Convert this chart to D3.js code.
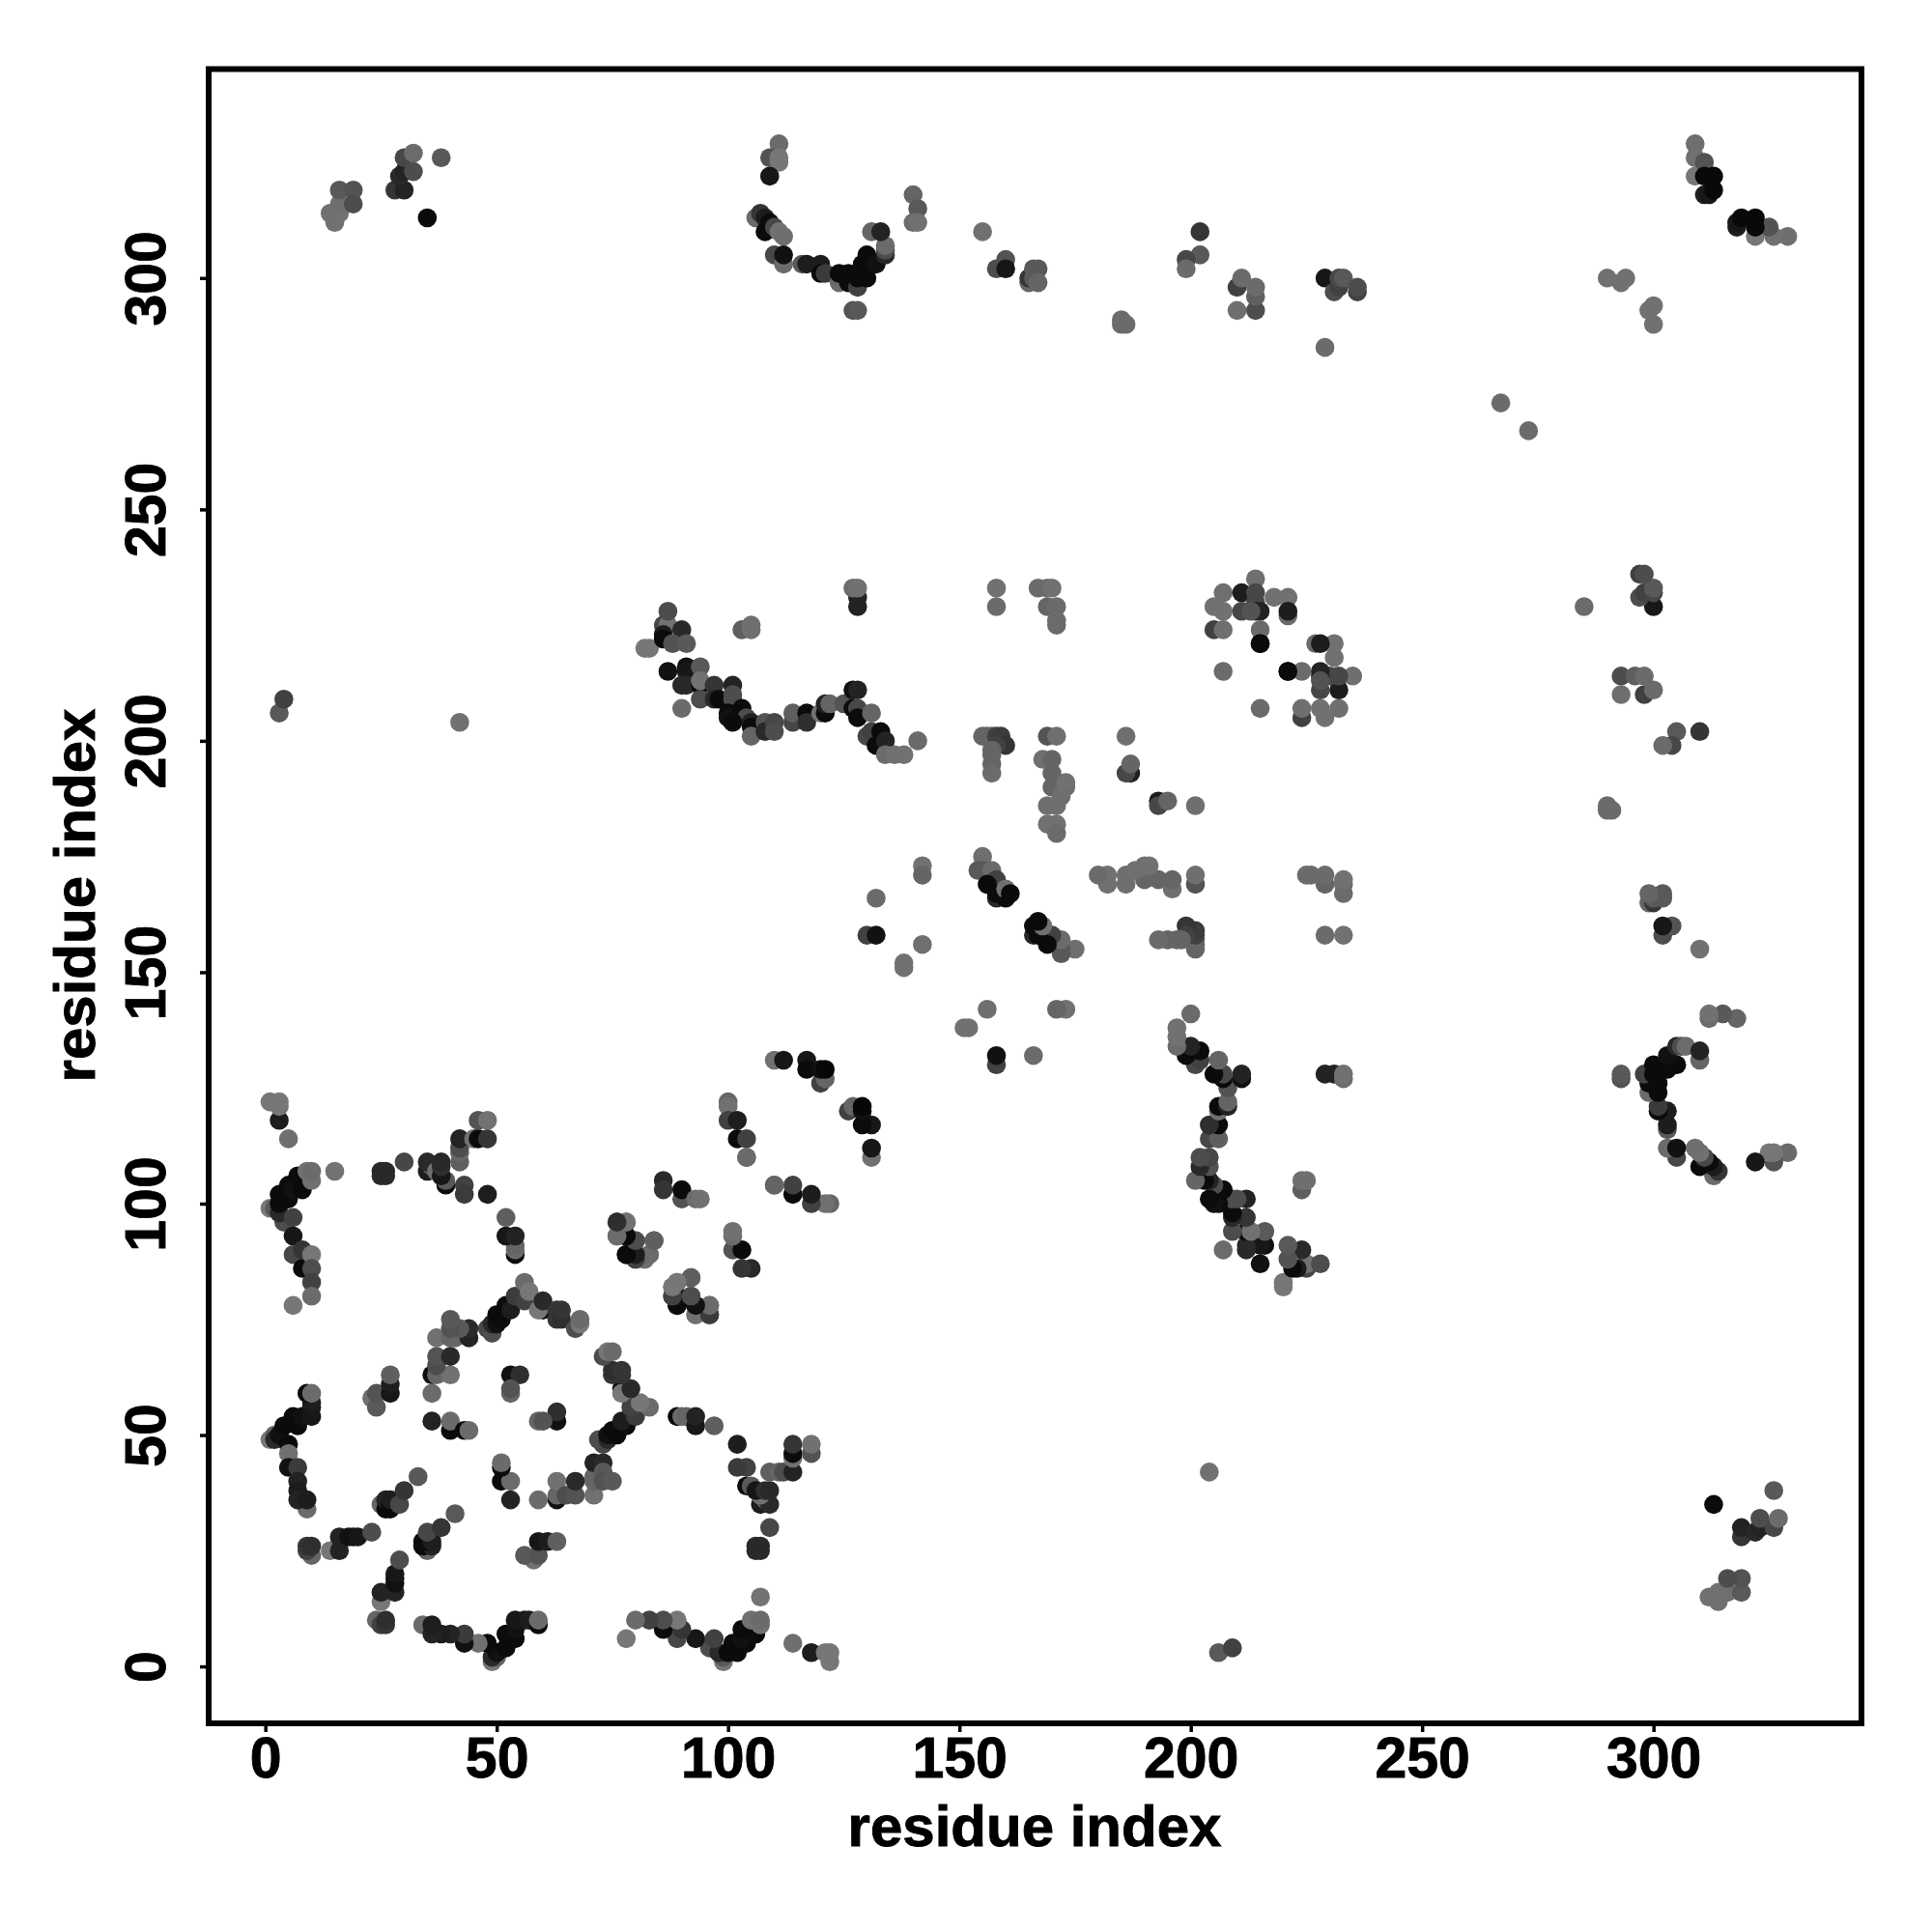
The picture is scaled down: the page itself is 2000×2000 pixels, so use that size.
<!DOCTYPE html>
<html><head><meta charset="utf-8">
<script src="https://cdn.jsdelivr.net/npm/d3@7"></script>
<style>html,body{margin:0;background:#fff}svg{display:block}</style></head><body>
<svg id="c" width="2000" height="2000"></svg>
<script>
// Each contact: [residue i, residue j, score]. The map is symmetric, so every pair appears on both sides of the diagonal.
const contactsNterm = [[3,118,.8],[3,121,.05],[1,122,.05],[3,122,.05],[5,114,.12]];
const contactsArc100 = [[1,99,.05],[2,99,.3],[4,96,.4],[3,98,.7],[6,97,.5],[3,100,.95],[3,102,.95],[5,101,.95],[5,104,.95],[6,103,.9],[7,106,.95],[8,103,.95],[9,107,.1],[10,105,.1],[10,107,.15],[15,107,.08]];
const contactsArc85 = [[6,93,.85],[6,89,.45],[8,90,.6],[8,86,.95],[10,89,.05],[10,86,.4],[10,83,.5],[10,80,.15],[6,78,.05]];
const contactsLoop107 = [[25,107,.7],[26,107,.7],[25,106,.7],[26,106,.7],[30,109,.45],[35,107,.8],[36,108,.3],[35,109,.7],[39,104,.95],[39,105,.3],[37,107,.1],[38,106,.85],[38,108,.65],[38,109,.7],[43,104,.5],[43,102,.55],[48,102,.8]];
const contactsLoop114 = [[42,109,.25],[42,111,.2],[42,112,.4],[42,114,.75],[45,114,.1],[46,114,.95],[48,114,.6],[46,118,.35],[48,118,.1]];
const contactsLoop93 = [[54,89,.95],[54,90,.15],[54,91,.2],[52,93,.85],[54,93,.75],[52,97,.25]];
const contactsArc75 = [[48,73,.45],[49,72,.4],[49,74,.7],[50,74,.9],[50,76,.95],[51,75,.95],[52,78,.95],[53,77,.8],[54,80,.55],[56,79,.5],[56,83,.15],[57,81,.05]];
const contactsArc77 = [[60,77,.9],[59,77,.05],[60,79,.7],[63,75,.6],[63,77,.6],[64,75,.65],[64,77,.6],[67,73,.4],[68,74,.05],[68,75,.15]];
const contactsHelix70 = [[37,71,.1],[41,71,.2],[40,71,.2],[44,71,.75],[44,73,.7],[42,73,.3],[40,73,.35],[40,75,.3]];
const contactsHelix60 = [[36,63,.9],[37,63,.2],[40,63,.1],[37,65,.4],[37,67,.35],[40,67,.7],[36,59,.15],[36,53,.75],[40,51,.95],[40,53,.15],[43,51,.95],[44,51,.15]];
const contactsCore = [[53,63,.9],[55,63,.65],[53,59,.2],[53,60,.35]];
const contactsArc50 = [[1,49,.05],[2,50,.2],[2,49,.7],[3,50,.9],[4,52,.95],[5,48,.95],[6,54,.95],[7,52,.95],[8,54,.9],[10,54,.85],[10,56,.85],[10,57,.8],[9,59,.95],[10,59,.15]];
const contactsArc40 = [[5,46,.1],[5,43,.9],[7,43,.55],[7,40,.75],[7,38,.8],[9,34,.15],[7,36,.75],[9,36,.8]];
const contactsPatch60 = [[23,58,.1],[24,56,.3],[24,59,.35],[27,59,.85],[27,61,.8],[27,63,.25]];
const contactsDiag30 = [[25,35,.2],[26,34,.95],[27,34,.95],[26,36,.75],[27,35,.95],[27,36,.8],[29,35,.45],[30,38,.6],[33,41,.3]];
const contactsTail25 = [[10,24,.2],[9,25,.5],[9,26,.6],[10,26,.65],[14,25,.05],[16,25,.75],[16,28,.75],[18,28,.9],[19,28,.9],[20,28,.85],[23,29,.4]];
const contactsDiag90 = [[76,93,.1],[76,96,.55],[78,96,.15],[78,93,.9],[78,89,.95],[80,89,.9],[80,92,.4],[84,92,.25],[80,88,.5],[82,88,.05],[83,89,.05],[88,82,.12],[89,83,.15],[92,84,.25],[88,80,.5],[89,80,.8],[89,78,.95],[92,80,.4],[93,78,.95],[93,76,.15],[96,78,.1],[96,76,.65]];
const contactsPatch103 = [[86,105,.7],[86,103,.6],[90,101,.35],[90,103,.95],[93,101,.15],[94,101,.1]];
const contactsPatch118 = [[100,122,.2],[100,121,.1],[100,118,.5],[102,118,.8],[102,114,.95],[104,114,.5],[104,110,.2],[110,104,.15]];
const contactsPatch129 = [[110,131,.1],[112,131,.85],[117,131,.85],[117,129,.95],[120,126,.5],[121,127,.2],[120,129,.9],[121,129,.98]];
const contactsBand215 = [[82,220,.05],[83,220,.05],[86,225,.45],[87,225,.1],[87,228,.4],[86,223,.8],[86,222,.95],[90,224,.7],[88,221,.35],[91,221,.3],[87,215,.9],[91,216,.9],[91,215,.85],[94,216,.3],[90,212,.7],[91,212,.7],[94,212,.95],[94,213,.1],[94,209,.4],[90,207,.15],[97,212,.6],[97,209,.7],[98,209,.95],[101,209,.4],[101,212,.75],[101,210,.4],[100,206,.95],[100,205,.9],[103,207,.95],[104,205,.4],[101,204,.95],[105,204,.75],[105,203,.95],[105,201,.2]];
const contactsBand205 = [[108,204,.35],[108,202,.7],[110,204,.45],[110,202,.4],[114,204,.45],[114,206,.25],[117,206,.95],[117,204,.65],[120,206,.1],[121,206,.95],[121,208,.75],[122,208,.2],[125,208,.35],[127,211,.9],[128,211,.75],[127,207,.95],[128,207,.45],[128,205,.95],[131,206,.2],[130,201,.45],[131,202,.5],[132,199,.95],[133,202,.95],[134,200,.75],[134,197,.15],[136,197,.1],[138,197,.1],[141,200,.15]];
const contactsSpur224 = [[103,224,.25],[105,225,.12],[105,224,.12]];
const contactsSpur230 = [[128,231,.75],[128,229,.75],[127,233,.15],[128,233,.1],[158,233,.1],[158,229,.15],[167,233,.15],[169,233,.15],[170,233,.1],[169,229,.2],[171,229,.15],[171,226,.15],[171,225,.15]];
const contactsMid150 = [[142,173,.1],[142,171,.2],[142,156,.12],[138,152,.1],[138,151,.1],[132,166,.15],[130,158,.5],[132,158,.9]];
const contactsMid200 = [[155,201,.2],[156,201,.2],[157,201,.2],[158,201,.5],[159,201,.55],[160,199,.6],[158,199,.5],[157,198,.2],[157,197,.2],[157,195,.2],[157,193,.15]];
const contactsMid185 = [[168,196,.12],[169,201,.35],[170,196,.2],[170,193,.2],[170,190,.2],[171,201,.12],[173,190,.12],[173,191,.1],[172,188,.12],[169,186,.12],[171,186,.12],[169,182,.1],[171,182,.1],[171,180,.15]];
const contactsMid195 = [[187,193,.8],[186,193,.45],[187,195,.2],[186,201,.12]];
const contactsMid170 = [[155,175,.12],[154,172,.3],[155,172,.3],[157,172,.15],[158,170,.5],[156,169,.95],[158,166,.7],[158,167,.95],[160,166,.95],[160,168,.1],[161,167,.95]];
const contactsRing225 = [[214,235,.12],[207,232,.12],[211,232,.8],[214,232,.45],[218,231,.1],[221,231,.1],[205,229,.1],[207,228,.1],[211,228,.45],[214,230,.45],[214,228,.7],[215,228,.75],[213,228,.35],[221,227,.15],[221,228,.8],[215,224,.15],[205,224,.5],[207,224,.12],[215,221,.95],[207,215,.15],[221,215,.95]];
const contactsFar300 = [[229,285,.15],[229,300,.85],[231,297,.4],[232,298,.5],[232,300,.45],[233,300,.3],[236,297,.5],[236,298,.4]];
const contactsFar295 = [[210,293,.12],[214,293,.4],[210,298,.5],[211,300,.15],[214,296,.25],[214,298,.15],[202,310,.6],[202,305,.3],[199,304,.45],[199,302,.15],[185,290,.15],[186,290,.15],[185,291,.15]];
const contactsFar305 = [[158,302,.4],[160,304,.35],[160,302,.85],[155,310,.1],[165,299,.2],[165,300,.6],[166,300,.3],[166,302,.3],[167,302,.3],[167,299,.2]];
const contactsFar270 = [[267,273,.15],[290,300,.1],[293,299,.1],[294,300,.1]];
const contactsTop325 = [[111,329,.15],[109,326,.35],[111,325,.05],[111,326,.05],[109,322,.85]];
const contactsTop305 = [[106,313,.15],[107,314,.6],[108,313,.8],[108,310,.95],[109,312,.95],[110,311,.45],[111,310,.1],[112,309,.12],[110,305,.45],[112,303,.15],[112,305,.9],[116,303,.3],[117,303,.8],[120,303,.8],[120,301,.95],[121,301,.55],[124,299,.15],[124,301,.95],[126,299,.95],[126,301,.95],[128,298,.5],[128,300,.95],[130,300,.95],[129,303,.95],[130,305,.95],[132,303,.9],[134,305,.7],[134,306,.4],[134,307,.15],[131,310,.2],[133,310,.75],[127,293,.35],[128,293,.3]];
const contactsTop315 = [[140,318,.2],[141,315,.3],[140,312,.15],[141,312,.1]];
const contactsCorner320 = [[14,314,.1],[15,312,.1],[16,314,.1],[16,316,.12],[16,319,.3],[19,319,.35],[19,316,.4],[28,319,.6],[30,319,.75],[29,322,.7],[30,323,.75],[30,326,.45],[32,327,.15],[32,323,.4],[38,326,.3],[35,313,.95]];
const contactsCorner325 = [[309,322,.05],[309,329,.12],[309,326,.1],[311,325,.35],[311,318,.8],[312,318,.85],[311,322,.97],[313,322,.97],[313,319,.97]];
const contactsDistant = [[3,206,.3],[4,209,.5],[42,204,.1]];
const xTicks = [0,50,100,150,200,250,300];
const yTicks = [0,50,100,150,200,250,300];
const axisTitle = "residue index";

const allGroups = [contactsNterm,contactsArc100,contactsArc85,contactsLoop107,contactsLoop114,contactsLoop93,contactsArc75,contactsArc77,contactsHelix70,contactsHelix60,contactsCore,contactsArc50,contactsArc40,contactsPatch60,contactsDiag30,contactsTail25,contactsDiag90,contactsPatch103,contactsPatch118,contactsPatch129,contactsBand215,contactsBand205,contactsSpur224,contactsSpur230,contactsMid150,contactsMid200,contactsMid185,contactsMid195,contactsMid170,contactsRing225,contactsFar300,contactsFar295,contactsFar305,contactsFar270,contactsTop325,contactsTop305,contactsTop315,contactsCorner320,contactsCorner325,contactsDistant];

const L=216,R=1927,T=71.5,B=1784;
const x=d3.scaleLinear().domain([-12.25,344.95]).range([L,R]);
const y=d3.scaleLinear().domain([-12.3,345.15]).range([B,T]);
const shade=d3.scaleLinear().domain([0,1]).range(["#7d7d7d","#050505"]);
const svg=d3.select("#c");
const FONT='"Liberation Sans",Arial,sans-serif';

const pts=[];
allGroups.forEach(g=>{g.forEach(d=>pts.push({a:d[0],b:d[1],s:d[2]}));});
allGroups.forEach(g=>{g.forEach(d=>pts.push({a:d[1],b:d[0],s:d[2]}));});
svg.append("g").selectAll("circle").data(pts).join("circle")
  .attr("cx",d=>x(d.a)).attr("cy",d=>y(d.b)).attr("r",9.8).attr("fill",d=>shade(d.s));

svg.append("rect").attr("x",L).attr("y",T).attr("width",R-L).attr("height",B-T)
  .attr("fill","none").attr("stroke","#000").attr("stroke-width",6);

const xa=svg.append("g").attr("transform",`translate(0,${B})`).call(d3.axisBottom(x).tickValues(xTicks).tickSize(9).tickPadding(0));
const ya=svg.append("g").attr("transform",`translate(${L},0)`).call(d3.axisLeft(y).tickValues(yTicks).tickSize(9).tickPadding(0));
xa.select(".domain").remove(); ya.select(".domain").remove();
[xa,ya].forEach(a=>a.selectAll(".tick line").attr("stroke","#000").attr("stroke-width",3.5));
const heavy=s=>s.attr("font-family",FONT).attr("font-weight","bold").attr("fill","#000").attr("stroke","#000").attr("stroke-width",0.9).attr("text-anchor","middle");
xa.selectAll(".tick text").attr("y",0).attr("dy",0).attr("transform","translate(0,56)").attr("font-size",59).call(heavy);
ya.selectAll(".tick text").attr("x",0).attr("dy",0).attr("transform","translate(-45,0) rotate(-90)").attr("font-size",59).call(heavy);
svg.append("text").text(axisTitle).attr("x",1071).attr("y",1911).attr("font-size",60).call(heavy);
svg.append("text").text(axisTitle).attr("transform","translate(98,927) rotate(-90)").attr("font-size",60).call(heavy);
</script></body></html>
